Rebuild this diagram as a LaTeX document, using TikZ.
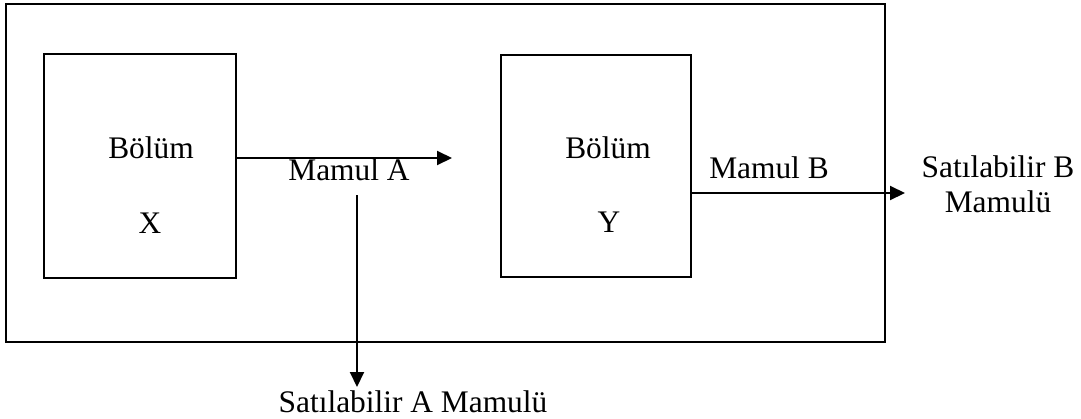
\documentclass[tikz,border=0pt]{standalone}
\usepackage{fontspec}
\setmainfont{Liberation Serif}
\usetikzlibrary{arrows.meta}
\begin{document}
\begin{tikzpicture}[x=0.5pt,y=-0.5pt,
  frame/.style={draw, line width=1pt, inner sep=0pt},
  lbl/.style={font=\fontsize{15.7}{17.5}\selectfont, inner sep=0pt, anchor=base},
  flow/.style={line width=1pt, -{Triangle[length=7.5pt,width=7pt]}}]
\useasboundingbox (0,0) rectangle (1081,418);
% outer frame
\node[frame, minimum width=439.5pt, minimum height=169pt] (outer) at (445.5,173) {};
% departments
\node[frame, minimum width=96pt, minimum height=112pt] (bx) at (140,166) {};
\node[frame, minimum width=95pt, minimum height=111pt] (by) at (596,166) {};
\node[lbl] (bxt1) at (151,158) {Bölüm};
\node[lbl] (bxt2) at (150,233) {X};
\node[lbl] (byt1) at (608,158) {Bölüm};
\node[lbl] (byt2) at (609,232) {Y};
% labels
\node[lbl] (ma) at (349,180) {Mamul A};
\node[lbl] (mb) at (769,178) {Mamul B};
\node[lbl] (sa) at (413,412) {Satılabilir A Mamulü};
\node[lbl, align=center] (sb) at (998,212) {Satılabilir B\\[0pt]Mamulü};
% connector ends
\coordinate (aend) at (452,158);
\coordinate (dtop) at (357,195);
\coordinate (dend) at (357,387);
\coordinate (bend) at (905,193);
% connectors
\draw[flow] (bx.east |- aend) -- (aend);
\draw[flow] (dtop) -- (dend);
\draw[flow] (by.east |- bend) -- (bend);
\end{tikzpicture}
\end{document}
